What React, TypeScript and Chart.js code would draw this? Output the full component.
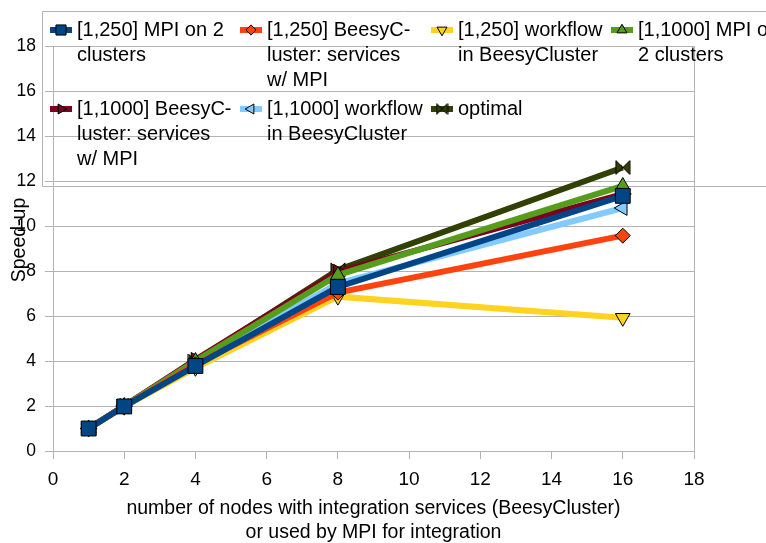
import React, { useEffect, useRef } from 'react';
import { Chart, registerables } from 'chart.js';
import { drawPoint } from 'chart.js/helpers';

Chart.register(...registerables);

const FONT = '"Liberation Sans", Arial, sans-serif';

const xValues = [1, 2, 4, 8, 16];
const seriesLabels = [
  '[1,250] MPI on 2 clusters',
  '[1,250] BeesyCluster: services w/ MPI',
  '[1,250] workflow in BeesyCluster',
  '[1,1000] MPI on 2 clusters',
  '[1,1000] BeesyCluster: services w/ MPI',
  '[1,1000] workflow in BeesyCluster',
  'optimal',
];
const legendLines = [
  ['[1,250] MPI on 2', 'clusters'],
  ['[1,250] BeesyC-', 'luster: services', 'w/ MPI'],
  ['[1,250] workflow', 'in BeesyCluster'],
  ['[1,1000] MPI on', '2 clusters'],
  ['[1,1000] BeesyC-', 'luster: services', 'w/ MPI'],
  ['[1,1000] workflow', 'in BeesyCluster'],
  ['optimal'],
];
const mpi250 = [1, 1.98, 3.78, 7.29, 11.34];
const beesy250 = [1, 2, 3.85, 7.04, 9.57];
const workflow250 = [1, 1.97, 3.7, 6.86, 5.92];
const mpi1000 = [1, 2, 4, 7.82, 11.78];
const beesy1000 = [1, 2, 4.05, 7.97, 11.42];
const workflow1000 = [1, 2, 3.9, 7.45, 10.8];
const optimal = [1, 2, 4, 8.05, 12.6];
const seriesValues = [mpi250, beesy250, workflow250, mpi1000, beesy1000, workflow1000, optimal];

const colors = ['#004586', '#ff420e', '#ffd320', '#579d1c', '#7e0021', '#83caff', '#314004'];
const pointStyles = ['rect', 'rectRot', 'triangle', 'triangle', 'triangle', 'triangle', 'bowtie'];
const pointRotations = [0, 0, 180, 0, 90, 270, 0];
const pointRadii = [10.5, 7.5, 8.5, 8.5, 8.5, 8.5, 8];

const xTitle = ['number of nodes with integration services (BeesyCluster)', 'or used by MPI for integration'];
const yTitle = 'Speed-up';

function makeBowtie(size: number, color: string): HTMLCanvasElement {
  const c = document.createElement('canvas');
  c.width = size + 2;
  c.height = size + 2;
  const ctx = c.getContext('2d')!;
  ctx.beginPath();
  ctx.moveTo(1, 1);
  ctx.lineTo(size + 1, size + 1);
  ctx.lineTo(size + 1, 1);
  ctx.lineTo(1, size + 1);
  ctx.closePath();
  ctx.fillStyle = color;
  ctx.fill();
  ctx.strokeStyle = '#000';
  ctx.lineWidth = 1;
  ctx.stroke();
  return c;
}

export default function App() {
  const ref = useRef<HTMLCanvasElement | null>(null);
  useEffect(() => {
    if (!ref.current) return;
    const bowtie = makeBowtie(14, colors[6]);
    const bowtieSmall = makeBowtie(11, colors[6]);
    const styleOf = (i: number, small: boolean): any =>
      pointStyles[i] === 'bowtie' ? (small ? bowtieSmall : bowtie) : pointStyles[i];

    const datasets = seriesLabels.map((label, i) => ({
      label,
      data: xValues.map((x, j) => ({ x, y: seriesValues[i][j] })),
      borderColor: colors[i],
      backgroundColor: colors[i],
      borderWidth: 6,
      tension: 0,
      fill: false,
      pointStyle: styleOf(i, false),
      rotation: pointRotations[i],
      pointRadius: pointRadii[i],
      pointBackgroundColor: colors[i],
      pointBorderColor: '#000',
      pointBorderWidth: 1,
    }));

    const legendCols = [50, 240, 431, 611];
    const legendRows = [30, 109];
    const lineGap = 25;

    const framePlugin = {
      id: 'framePlugin',
      beforeDatasetsDraw(chart: any) {
        const { ctx, chartArea } = chart;
        ctx.save();
        ctx.strokeStyle = '#b3b3b3';
        ctx.lineWidth = 1;
        const rx = Math.round(chartArea.right) + 0.5;
        ctx.beginPath();
        ctx.moveTo(rx, Math.round(chartArea.top));
        ctx.lineTo(rx, Math.round(chartArea.bottom) + 1);
        ctx.stroke();
        // legend frame
        ctx.beginPath();
        ctx.rect(42.5, 11.5, 800, 175);
        ctx.stroke();
        ctx.restore();
      },
      afterDraw(chart: any) {
        const { ctx } = chart;
        ctx.save();
        // y title
        ctx.font = '19.5px ' + FONT;
        ctx.fillStyle = '#000';
        ctx.textAlign = 'center';
        ctx.textBaseline = 'middle';
        ctx.translate(20, 240);
        ctx.rotate(-Math.PI / 2);
        ctx.fillText(yTitle, 0, 0);
        ctx.restore();

        // legend
        ctx.save();
        legendLines.forEach((lines, i) => {
          const col = i % 4;
          const row = Math.floor(i / 4);
          const x0 = legendCols[col];
          const y0 = legendRows[row];
          ctx.strokeStyle = colors[i];
          ctx.lineWidth = 6;
          ctx.beginPath();
          ctx.moveTo(x0, y0);
          ctx.lineTo(x0 + 22, y0);
          ctx.stroke();
          ctx.fillStyle = colors[i];
          ctx.strokeStyle = '#000';
          ctx.lineWidth = 1;
          drawPoint(ctx, {
            pointStyle: styleOf(i, true),
            rotation: pointRotations[i],
            radius: pointRadii[i] * 0.68,
            borderWidth: 1,
          } as any, x0 + 11, y0);
          ctx.fillStyle = '#000';
          ctx.font = '20px ' + FONT;
          ctx.textAlign = 'left';
          ctx.textBaseline = 'middle';
          lines.forEach((t, k) => ctx.fillText(t, x0 + 27, y0 + k * lineGap));
        });
        ctx.restore();
      },
    };

    const chart = new Chart(ref.current, {
      type: 'line',
      data: { datasets: datasets as any },
      options: {
        responsive: false,
        animation: false,
        devicePixelRatio: 1,
        layout: { padding: { left: 0, right: 72, top: 46, bottom: -2 } },
        plugins: { legend: { display: false }, tooltip: { enabled: false } },
        scales: {
          x: {
            type: 'linear',
            min: 0,
            max: 18,
            ticks: { stepSize: 2, color: '#000', font: { family: FONT, size: 19 }, padding: 9, maxRotation: 0 },
            grid: { drawOnChartArea: false, drawTicks: true, tickLength: 8, color: '#b3b3b3' },
            border: { color: '#b3b3b3' },
            title: {
              display: true,
              text: xTitle,
              color: '#000',
              font: { family: FONT, size: 19.5, lineHeight: 24 / 19.5 },
              padding: { top: 0, bottom: 0 },
            },
            afterFit: (s: any) => {
              s.height = 94;
            },
          },
          y: {
            type: 'linear',
            min: 0,
            max: 18,
            ticks: { stepSize: 2, color: '#000', font: { family: FONT, size: 17.5 }, padding: 9 },
            grid: { color: '#b3b3b3', tickLength: 8 },
            border: { color: '#b3b3b3' },
            afterFit: (s: any) => {
              s.width = 53;
            },
          },
        },
      },
      plugins: [framePlugin],
    });
    return () => chart.destroy();
  }, []);

  return (
    <div style={{ position: 'absolute', left: 0, top: 0, width: 766, height: 543, background: '#fff' }}>
      <canvas ref={ref} width={766} height={543} style={{ width: 766, height: 543 }} />
    </div>
  );
}
